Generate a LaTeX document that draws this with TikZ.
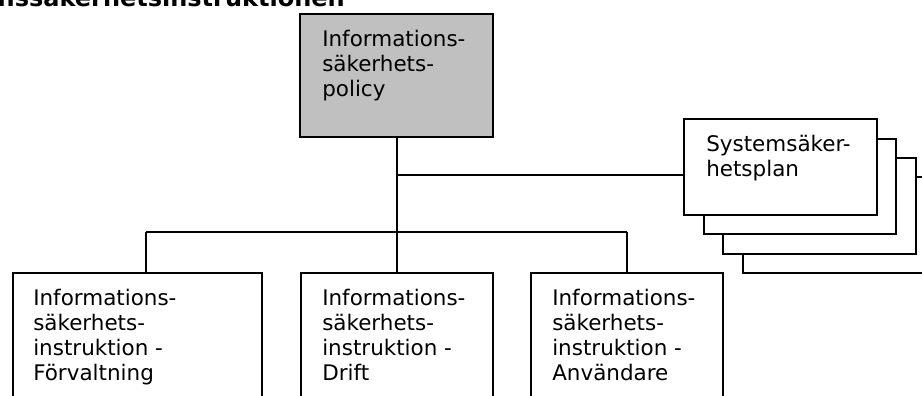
\documentclass[tikz,border=0pt]{standalone}
\usepackage{fontspec}
\setmainfont{DejaVu Sans}
\definecolor{boxgray}{HTML}{C0C0C0}
\begin{document}
\begin{tikzpicture}[x=0.75pt,y=-0.75pt,
  box/.style={draw=black,line width=1.5pt,fill=white,rectangle,inner sep=0pt,anchor=north west},
  label/.style={inner sep=0pt,anchor=north west,align=left,font=\fontsize{16.1pt}{18.75pt}\selectfont},
  conn/.style={draw=black,line width=1.5pt}]
\path[use as bounding box] (0,0) rectangle (922,396);
\clip (0,0) rectangle (922,396);
% cut-off heading
\node[inner sep=0pt,anchor=base east,font=\fontsize{18pt}{20pt}\selectfont\bfseries] (title) at (345,7) {Informationssäkerhetsinstruktionen};
% policy
\node[box,fill=boxgray,minimum width=193*0.75pt,minimum height=123*0.75pt] (pol) at (299,13) {};
\node[label] (polT) at (322,29.7) {Informations-\\säkerhets-\\policy};
% system security plans (stack)
\node[box,minimum width=200*0.75pt,minimum height=96*0.75pt] (s4) at (742,176) {};
\node[box,minimum width=193*0.75pt,minimum height=96*0.75pt] (s3) at (722,157) {};
\node[box,minimum width=192*0.75pt,minimum height=95*0.75pt] (s2) at (703,138) {};
\node[box,minimum width=193*0.75pt,minimum height=96*0.75pt] (s1) at (683,118) {};
\node[label] (s1T) at (706,134.7) {Systemsäker-\\hetsplan};
% bottom boxes
\node[box,minimum width=249*0.75pt,minimum height=150*0.75pt] (b1) at (12,272) {};
\node[box,minimum width=192*0.75pt,minimum height=150*0.75pt] (b2) at (300,272) {};
\node[box,minimum width=192*0.75pt,minimum height=150*0.75pt] (b3) at (530,272) {};
\node[label] (b1T) at (33,288.7) {Informations-\\säkerhets-\\instruktion -\\Förvaltning};
\node[label] (b2T) at (322,288.7) {Informations-\\säkerhets-\\instruktion -\\Drift};
\node[label] (b3T) at (552,288.7) {Informations-\\säkerhets-\\instruktion -\\Användare};
% connectors
\coordinate (jl) at (146,232);
\coordinate (jr) at (627,232);
\coordinate (sy) at (0,175);
\draw[conn] (pol.south) -- (pol.south |- b2.north);
\draw[conn] (pol.south |- sy) -- (s1.west |- sy);
\draw[conn] (jl) -- (jr);
\draw[conn] (jl) -- (jl |- b1.north);
\draw[conn] (jr) -- (jr |- b3.north);
\end{tikzpicture}
\end{document}
